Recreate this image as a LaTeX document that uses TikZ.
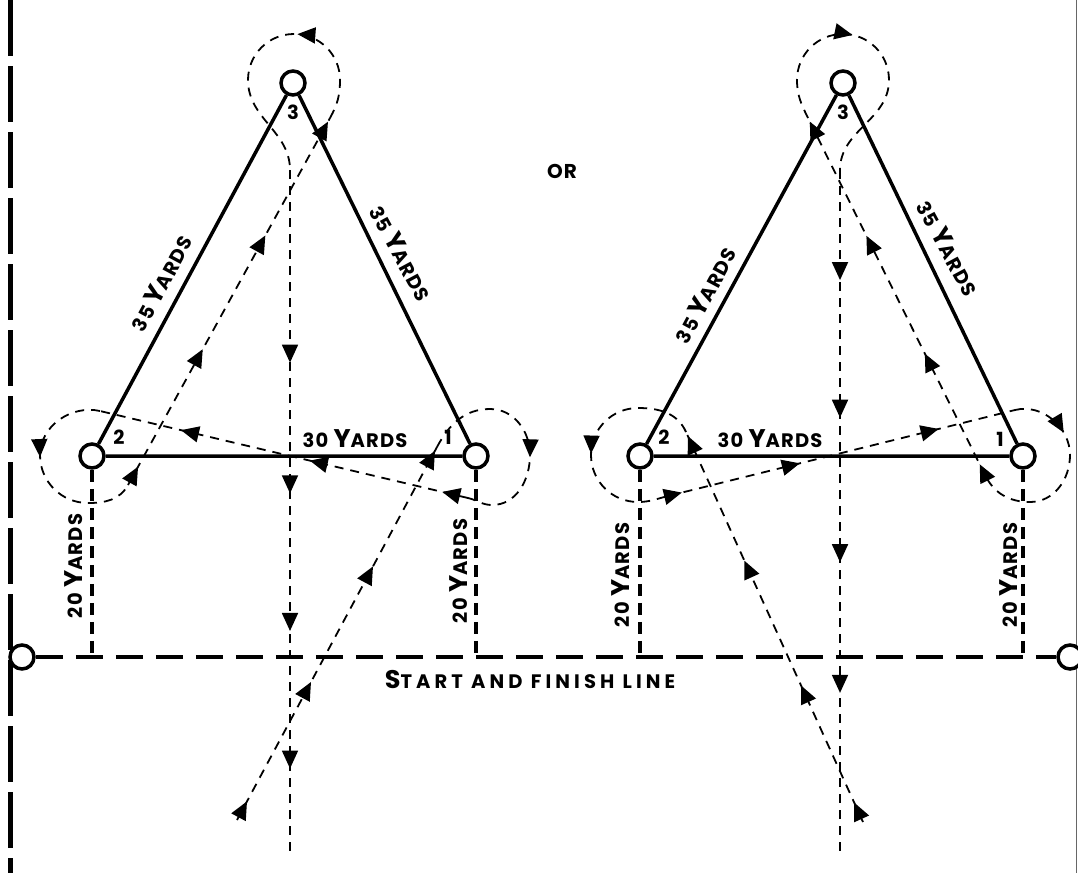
\documentclass[tikz,border=0pt]{standalone}
\usepackage{fontspec}
\newfontfamily\lblfont{Poppins}[LetterSpace=6]
\usetikzlibrary{arrows.meta,decorations.markings}
\newcommand\smc[1]{{\fontsize{19.5}{19.5}\selectfont #1}}
\newcommand\bgc[1]{{\fontsize{25.5}{25.5}\selectfont #1}}
\newcommand\yds[1]{\smc{#1 }\bgc{Y}\smc{ARDS}}
\tikzset{
  cone/.style={circle, draw, line width=3.5pt, fill=white, minimum size=24pt, inner sep=0pt},
  side/.style={line width=3.5pt},
  yardline/.style={line width=4pt, dash pattern=on 12pt off 7pt},
  startline/.style={line width=4pt, dash pattern=on 27pt off 13pt},
  sideline/.style={line width=5pt, dash pattern=on 56pt off 10pt},
  route/.style={line width=1.8pt, dash pattern=on 9pt off 7pt},
  runtip/.style={postaction={decorate, decoration={markings,
      mark=at position #1 with {\arrow{Triangle[length=18pt,width=16pt]}}}}},
  lbl/.style={font=\lblfont\bfseries, inner sep=0pt},
}

\begin{document}
\begin{tikzpicture}[x=1pt,y=1pt]
    \useasboundingbox (0,0) rectangle (1078,-873);
    % field edges
    \draw[sideline] (10,0) -- (10,-873);
    \draw[line width=1pt, black!60] (1076,0) -- (1076,-873);
    % start and finish line
    \node[cone] (sw) at (22,-657) {};
    \node[cone] (se) at (1070,-657) {};
    \draw[startline] (sw) -- (se);
    \node[lbl] (sf) at (530,-679) {\addfontfeature{LetterSpace=21}\bgc{S}\smc{TART AND FINISH LINE}};
    \node[lbl] (or) at (562,-171) {\fontsize{20}{20}\selectfont OR};
    % first way round
    \begin{scope}[shift={(92,-456)}]
        \node[cone] (l2) at (0,0) {};
        \node[cone] (l1) at (384,0) {};
        \node[cone] (l3) at (201,373) {};
        \draw[side] (l2) -- (l3) -- (l1) -- (l2);
        \draw[yardline] (l2) -- (l2 |- sw);
        \draw[yardline] (l1) -- (l1 |- sw);
        \node[lbl] (l2n) at (27,19) {\smc{2}};
        \node[lbl] (l1n) at (356,19) {\smc{1}};
        \node[lbl] (l3n) at (201,344) {\smc{3}};
        \node[lbl, rotate=61.7] (l23) at (69,173) {\yds{35}};
        \node[lbl, rotate=-61.7] (l31) at (309,203) {\yds{35}};
        \node[lbl] (l12) at (263,17) {\yds{30}};
        \node[lbl, rotate=90] (l2s) at (-18,-110) {\yds{20}};
        \node[lbl, rotate=90] (l1s) at (367,-115) {\yds{20}};
        \coordinate (lstart) at (145,-364);
        \coordinate (lin1) at (345,9);
        \coordinate (lout1) at (376,-42);
        \coordinate (lin2) at (8,45);
        \coordinate (lout2) at (36,-29);
        \coordinate (lin3) at (238,338);
        \coordinate (lout3) at (198,286);
        \coordinate (lend) at (198,-402);
        \draw[route, runtip=0.05, runtip=0.37, runtip=0.68, runtip=0.99] (lstart) -- (lin1);
        \draw[route, runtip=0.6] (lin1) to[out=62,in=180] (398,47) to[out=0,in=90] (438,1)
            to[out=-90,in=0] (400,-49) to[out=180,in=-13] (lout1);
        \draw[route, runtip=0.07, runtip=0.43, runtip=0.78] (lout1) -- (lin2);
        \draw[route, runtip=0.42] (lin2) to[out=167,in=90] (-52,1) to[out=-90,in=180] (-4,-47)
            to[out=0,in=-119] (lout2);
        \draw[route, runtip=0.05, runtip=0.37, runtip=0.68, runtip=0.99] (lout2) -- (lin3);
        \draw[route, runtip=0.38] (lin3) to[out=61,in=-90] (248,376) to[out=90,in=0] (202,422)
            to[out=180,in=90] (156,376) to[out=-90,in=90] (lout3);
        \draw[route, runtip=0.28, runtip=0.47, runtip=0.67, runtip=0.87] (lout3) -- (lend);
    \end{scope}
    % second way round
    \begin{scope}[shift={(640,-456)}]
        \node[cone] (r2) at (0,0) {};
        \node[cone] (r1) at (383,0) {};
        \node[cone] (r3) at (203,373) {};
        \draw[side] (r2) -- (r3) -- (r1) -- (r2);
        \draw[yardline] (r2) -- (r2 |- sw);
        \draw[yardline] (r1) -- (r1 |- sw);
        \node[lbl] (r2n) at (24,19) {\smc{2}};
        \node[lbl] (r1n) at (360,17) {\smc{1}};
        \node[lbl] (r3n) at (203,344) {\smc{3}};
        \node[lbl, rotate=61.7] (r23) at (65,161) {\yds{35}};
        \node[lbl, rotate=-61.7] (r31) at (308,208) {\yds{35}};
        \node[lbl] (r12) at (130,17) {\yds{30}};
        \node[lbl, rotate=90] (r2s) at (-19,-119) {\yds{20}};
        \node[lbl, rotate=90] (r1s) at (369,-119) {\yds{20}};
        \coordinate (rstart) at (223,-366);
        \coordinate (rin2) at (46,24);
        \coordinate (rout2) at (28,-40);
        \coordinate (rin1) at (375,46);
        \coordinate (rout1) at (345,-19);
        \coordinate (rin3) at (168,338);
        \coordinate (rout3) at (200,286);
        \coordinate (rend) at (200,-402);
        \draw[route, runtip=0.05, runtip=0.35, runtip=0.67, runtip=0.99] (rstart) -- (rin2);
        \draw[route, runtip=0.55] (rin2) to[out=114,in=0] (-2,48) to[out=180,in=90] (-49,1)
            to[out=-90,in=180] (-2,-46) to[out=0,in=194] (rout2);
        \draw[route, runtip=0.04, runtip=0.38, runtip=0.78] (rout2) -- (rin1);
        \draw[route, runtip=0.28] (rin1) to[out=14,in=90] (430,1) to[out=-90,in=0] (390,-46)
            to[out=180,in=-64] (rout1);
        \draw[route, runtip=0.03, runtip=0.34, runtip=0.67, runtip=0.99] (rout1) -- (rin3);
        \draw[route, runtip=0.42] (rin3) to[out=116,in=-90] (157,376) to[out=90,in=180] (203,422)
            to[out=0,in=90] (249,376) to[out=-90,in=90] (rout3);
        \draw[route, runtip=0.16, runtip=0.36, runtip=0.57, runtip=0.76] (rout3) -- (rend);
    \end{scope}
\end{tikzpicture}
\end{document}
